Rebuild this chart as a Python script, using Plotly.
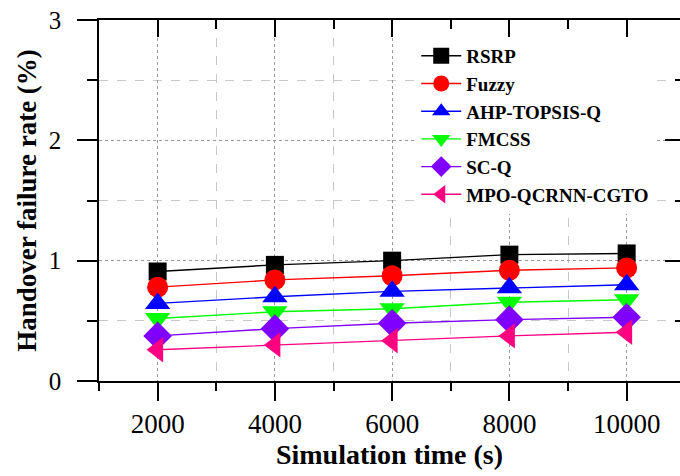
import plotly.graph_objects as go

time_s = [2000, 4000, 6000, 8000, 10000]
rsrp = [0.91, 0.965, 1.00, 1.05, 1.06]
fuzzy = [0.78, 0.84, 0.875, 0.92, 0.94]
ahp_topsis_q = [0.645, 0.70, 0.745, 0.775, 0.80]
fmcss = [0.52, 0.575, 0.60, 0.655, 0.675]
sc_q = [0.375, 0.435, 0.48, 0.51, 0.53]
mpo_qcrnn_cgto = [0.26, 0.30, 0.335, 0.375, 0.405]

series = [
    ("RSRP", rsrp, "#000000", "square", 18),
    ("Fuzzy", fuzzy, "#FF0000", "circle", 21),
    ("AHP-TOPSIS-Q", ahp_topsis_q, "#0000FF", "triangle-up", 22),
    ("FMCSS", fmcss, "#00FF00", "triangle-down", 22),
    ("SC-Q", sc_q, "#8000FF", "diamond", 22),
    ("MPO-QCRNN-CGTO", mpo_qcrnn_cgto, "#FF0080", "triangle-left", 22),
]

SERIF = "Liberation Serif, Times New Roman, serif"

fig = go.Figure()
for name, vals, color, sym, size in series:
    fig.add_trace(go.Scatter(
        x=time_s, y=vals, name=name, mode="lines+markers",
        line=dict(color=color, width=1.4),
        marker=dict(symbol=sym, size=size, color=color, line=dict(width=0)),
    ))

# invisible helper trace so the mirrored top/right axes are drawn
fig.add_trace(go.Scatter(x=time_s[:1], y=rsrp[:1], xaxis="x2", yaxis="y2",
                         mode="markers", marker=dict(opacity=0),
                         showlegend=False, hoverinfo="skip"))

XR = [1000, 10910]
YR = [0, 3]

fig.update_layout(
    width=680, height=476,
    margin=dict(l=99, r=0, t=20, b=95, autoexpand=False),
    paper_bgcolor="white", plot_bgcolor="white",
    font=dict(family=SERIF, color="black"),
    showlegend=True,
    legend=dict(
        x=0.546, y=0.953, xanchor="left", yanchor="top",
        bgcolor="white", borderwidth=0,
        font=dict(family=SERIF, size=19, color="black", weight="bold"),
        itemwidth=40,
    ),
    xaxis=dict(
        range=XR, tick0=0, dtick=2000, tickformat="d", automargin=False,
        showline=True, linecolor="black", linewidth=1.5,
        ticks="outside", ticklen=18, tickwidth=1.5, tickcolor="black",
        tickfont=dict(family=SERIF, size=27, color="black"),
        ticklabelstandoff=0,
        showgrid=True, gridcolor="#999999", griddash="dot", gridwidth=1.2,
        minor=dict(tick0=1000, dtick=1000, ticks="outside", ticklen=8,
                   tickwidth=1.5, tickcolor="black",
                   showgrid=True, gridcolor="#c8c8c8", griddash="dash", gridwidth=1.2),
        title=dict(text="<b>Simulation time (s)</b>",
                   font=dict(family=SERIF, size=28, color="black"), standoff=2),
        zeroline=False,
    ),
    yaxis=dict(
        range=YR, tick0=0, dtick=1, automargin=False,
        showline=True, linecolor="black", linewidth=1.5,
        ticks="outside", ticklen=20, tickwidth=1.5, tickcolor="black",
        tickfont=dict(family=SERIF, size=25, color="black"),
        ticklabelstandoff=11,
        showgrid=True, gridcolor="#999999", griddash="dot", gridwidth=1.2,
        minor=dict(tick0=0, dtick=0.5, ticks="outside", ticklen=10,
                   tickwidth=1.5, tickcolor="black",
                   showgrid=True, gridcolor="#c8c8c8", griddash="dash", gridwidth=1.2),
        title=dict(text="<b>Handover failure rate (%)</b>",
                   font=dict(family=SERIF, size=27, color="black"), standoff=4),
        zeroline=False,
    ),
    xaxis2=dict(
        range=XR, overlaying="x", side="top", anchor="y2", automargin=False,
        tick0=0, dtick=2000, showticklabels=False,
        showline=True, linecolor="black", linewidth=1.5,
        ticks="inside", ticklen=17, tickwidth=1.5, tickcolor="black",
        showgrid=False, zeroline=False,
        minor=dict(tick0=1000, dtick=1000, ticks="inside", ticklen=9,
                   tickwidth=1.5, tickcolor="black", showgrid=False),
    ),
    yaxis2=dict(
        range=YR, overlaying="y", side="right", anchor="x2", automargin=False,
        tick0=0, dtick=1, showticklabels=False,
        showline=False,
        ticks="inside", ticklen=15, tickwidth=1.5, tickcolor="black",
        showgrid=False, zeroline=False,
        minor=dict(tick0=0, dtick=0.5, ticks="inside", ticklen=5,
                   tickwidth=1.5, tickcolor="black", showgrid=False),
    ),
)

fig.write_html("out.html",
               config={"displayModeBar": False},
               post_script="document.body.style.margin='0px';"
                           "document.body.style.overflow='hidden';")
